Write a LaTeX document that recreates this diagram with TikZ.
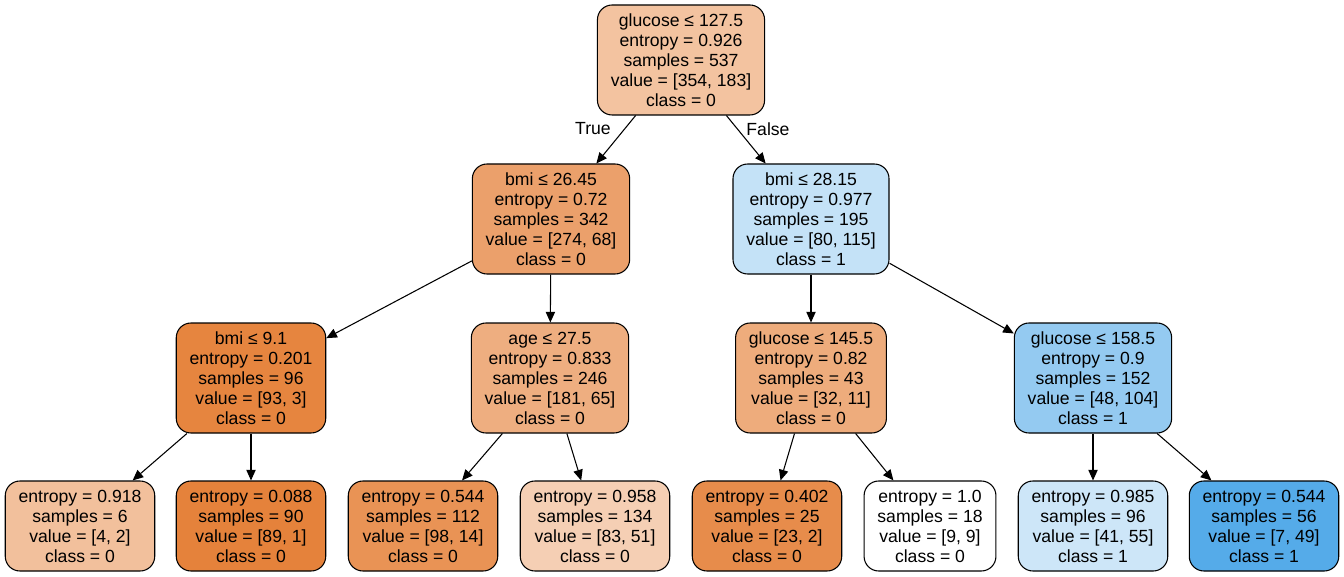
\documentclass[tikz,border=0pt]{standalone}
\usepackage{fontspec}
\setmainfont{Liberation Sans}
\usepackage{xcolor}
\usetikzlibrary{arrows.meta}
\definecolor{treeorange}{HTML}{E58139}
\definecolor{treeblue}{HTML}{399DE5}

\tikzset{
  treenode/.style={draw=black, line width=0.8pt, rounded corners=11pt, align=center,
    inner xsep=10pt, inner ysep=4pt, font=\fontsize{13.2}{15}\selectfont},
  splitnode/.style={treenode, minimum height=82.5pt},
  leafnode/.style={treenode, minimum height=67.5pt},
  treeedge/.style={line width=0.8pt, -{Triangle[length=8pt,width=7pt]}},
  edgetag/.style={font=\fontsize{13.2}{15}\selectfont}
}

\begin{document}
\begin{tikzpicture}[x=0.75pt,y=-0.75pt]
  \useasboundingbox (0,0) rectangle (1344,577);

  % Root split
  \node[splitnode, fill=treeorange!48] (root) at (681,60)
    {glucose ≤ 127.5\\entropy = 0.926\\samples = 537\\value = [354, 183]\\class = 0};

  % Second level
  \node[splitnode, fill=treeorange!75] (bmiA) at (551,219)
    {bmi ≤ 26.45\\entropy = 0.72\\samples = 342\\value = [274, 68]\\class = 0};
  \node[splitnode, fill=treeblue!30] (bmiB) at (811,219)
    {bmi ≤ 28.15\\entropy = 0.977\\samples = 195\\value = [80, 115]\\class = 1};

  % Third level
  \node[splitnode, fill=treeorange!97] (bmiC) at (251,378)
    {bmi ≤ 9.1\\entropy = 0.201\\samples = 96\\value = [93, 3]\\class = 0};
  \node[splitnode, fill=treeorange!64] (age) at (550,378)
    {age ≤ 27.5\\entropy = 0.833\\samples = 246\\value = [181, 65]\\class = 0};
  \node[splitnode, fill=treeorange!66] (glcA) at (811,378)
    {glucose ≤ 145.5\\entropy = 0.82\\samples = 43\\value = [32, 11]\\class = 0};
  \node[splitnode, fill=treeblue!54] (glcB) at (1093,378)
    {glucose ≤ 158.5\\entropy = 0.9\\samples = 152\\value = [48, 104]\\class = 1};

  % Leaves
  \node[leafnode, fill=treeorange!50] (leafA) at (80,526)
    {entropy = 0.918\\samples = 6\\value = [4, 2]\\class = 0};
  \node[leafnode, fill=treeorange!99] (leafB) at (251,526)
    {entropy = 0.088\\samples = 90\\value = [89, 1]\\class = 0};
  \node[leafnode, fill=treeorange!86] (leafC) at (423,526)
    {entropy = 0.544\\samples = 112\\value = [98, 14]\\class = 0};
  \node[leafnode, fill=treeorange!38] (leafD) at (595,526)
    {entropy = 0.958\\samples = 134\\value = [83, 51]\\class = 0};
  \node[leafnode, fill=treeorange!91] (leafE) at (767,526)
    {entropy = 0.402\\samples = 25\\value = [23, 2]\\class = 0};
  \node[leafnode, fill=white] (leafF) at (930,526)
    {entropy = 1.0\\samples = 18\\value = [9, 9]\\class = 0};
  \node[leafnode, fill=treeblue!25] (leafG) at (1093,526)
    {entropy = 0.985\\samples = 96\\value = [41, 55]\\class = 1};
  \node[leafnode, fill=treeblue!86] (leafH) at (1264,526)
    {entropy = 0.544\\samples = 56\\value = [7, 49]\\class = 1};

  % Edges
  \draw[treeedge] (root) -- (bmiA);
  \draw[treeedge] (root) -- (bmiB);
  \draw[treeedge] (bmiA) -- (bmiC);
  \draw[treeedge] (bmiA) -- (age);
  \draw[treeedge] (bmiB) -- (glcA);
  \draw[treeedge] (bmiB) -- (glcB);
  \draw[treeedge] (bmiC) -- (leafA);
  \draw[treeedge] (bmiC) -- (leafB);
  \draw[treeedge] (age) -- (leafC);
  \draw[treeedge] (age) -- (leafD);
  \draw[treeedge] (glcA) -- (leafE);
  \draw[treeedge] (glcA) -- (leafF);
  \draw[treeedge] (glcB) -- (leafG);
  \draw[treeedge] (glcB) -- (leafH);

  % Branch tags
  \node[edgetag] (truetag) at (593,129) {True};
  \node[edgetag] (falsetag) at (768,129) {False};
\end{tikzpicture}
\end{document}
